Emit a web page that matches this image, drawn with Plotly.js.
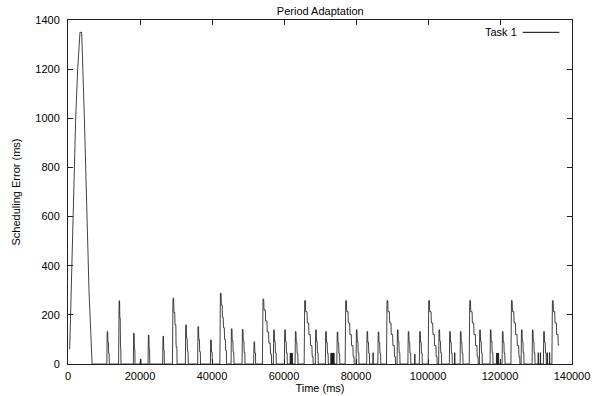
<!DOCTYPE html>
<html>
<head>
<meta charset="utf-8">
<script src="https://cdn.plot.ly/plotly-3.0.1.min.js"></script>
<style>html,body{margin:0;padding:0;background:#fff;}#chart{width:602px;height:396px;}</style>
</head>
<body>
<div id="chart"></div>
<script>
// Time (ms) samples of the Task 1 scheduling error trace
const timeMs = [
  470, 1390, 2140, 2690, 3330, 3800, 4170, 4550, 5280, 5780, 5840, 6700,
  10790, 10890, 11020, 11090, 11230, 11290, 11420, 11470,
  14050, 14200, 14330, 14400, 14500, 14580, 14650, 14720,
  18150, 18250, 18380, 18450, 18570, 18620,
  20050, 20110, 20250, 20300,
  22240, 22340, 22470, 22540, 22660, 22710,
  26290, 26390, 26520, 26590, 26710, 26760,
  29000, 29170, 29350, 29430, 29650, 29720, 29950, 30030, 30250, 30300,
  32600, 32700, 32850, 32920, 33100, 33170, 33350, 33400,
  36010, 36110, 36260, 36330, 36510, 36580, 36760, 36810,
  39540, 39640, 39790, 39860, 40040, 40090,
  42180, 42340, 42520, 42600, 42820, 42900, 43120, 43200, 43420, 43500, 43720, 43800, 44000, 44060,
  45290, 45390, 45550, 45620, 45800, 45870, 46050, 46110,
  48350, 48450, 48610, 48680, 48860, 48930, 49110, 49170,
  51570, 51670, 51830, 51900, 52080, 52130,
  54000, 54170, 54370, 54450, 54820, 54900, 55270, 55350, 55720, 55800, 56170, 56250, 56500, 56550,
  57040, 57140, 57300, 57370, 57550, 57620, 57800, 57860,
  60100, 60200, 60360, 60430, 60610, 60680, 60860, 60920,
  61700, 61730, 61830, 61860, 61950, 61980, 62080, 62110, 62200, 62230, 62330, 62360,
  63070, 63170, 63330, 63400, 63580, 63650, 63830, 63890,
  65600, 65750, 65950, 66030, 66400, 66480, 66850, 66930, 67300, 67380, 67750, 67830, 68050, 68100,
  68700, 68800, 68960, 69030, 69210, 69280, 69460, 69520,
  71490, 71590, 71750, 71820, 72000, 72070, 72250, 72310,
  73000, 73020, 73120, 73140, 73200, 73220, 73320, 73340, 73400, 73420, 73520, 73540, 73600, 73620, 73720, 73740, 73800, 73820, 73920, 73940,
  74680, 74780, 74940, 75010, 75190, 75260, 75440, 75500,
  76990, 77140, 77340, 77420, 77790, 77870, 78240, 78320, 78690, 78770, 79140, 79220, 79440, 79490,
  80020, 80120, 80280, 80350, 80530, 80600, 80780, 80840,
  82960, 83060, 83220, 83290, 83470, 83540, 83720, 83780,
  84700, 84730, 84790, 84820,
  86070, 86170, 86330, 86400, 86580, 86650, 86830, 86890,
  88470, 88620, 88820, 88900, 89270, 89350, 89720, 89800, 90170, 90250, 90620, 90700, 90920, 90970,
  91410, 91510, 91670, 91740, 91920, 91990, 92170, 92230,
  94410, 94510, 94670, 94740, 94920, 94990, 95170, 95230,
  96280, 96310, 96370, 96400,
  97600, 97700, 97860, 97930, 98110, 98180, 98360, 98420,
  100050, 100200, 100400, 100480, 100850, 100930, 101300, 101380, 101750, 101830, 102200, 102280, 102500, 102550,
  102960, 103060, 103220, 103290, 103470, 103540, 103720, 103780,
  105930, 106030, 106190, 106260, 106440, 106510, 106690, 106750,
  107370, 107400, 107460, 107490,
  108910, 109010, 109170, 109240, 109420, 109490, 109670, 109730,
  111450, 111600, 111800, 111880, 112250, 112330, 112700, 112780, 113150, 113230, 113600, 113680, 113900, 113950,
  114270, 114370, 114530, 114600, 114780, 114850, 115030, 115090,
  117240, 117340, 117500, 117570, 117750, 117820, 118000, 118060,
  119000, 119020, 119120, 119140, 119250, 119270, 119370, 119390, 119500, 119520, 119620, 119640,
  120580, 120680, 120840, 120910, 121090, 121160, 121340, 121400,
  123030, 123180, 123380, 123460, 123830, 123910, 124280, 124360, 124730, 124810, 125180, 125260, 125480, 125530,
  125860, 125960, 126120, 126190, 126370, 126440, 126620, 126680,
  128910, 129010, 129170, 129240, 129420, 129490, 129670, 129730,
  130570, 130600, 130660, 130690,
  131170, 131200, 131260, 131290,
  132050, 132150, 132310, 132380, 132560, 132630, 132810, 132870,
  133070, 133100, 133160, 133190,
  133720, 133750, 133810, 133840,
  134410, 134560, 134760, 134840, 135210, 135290, 135660, 135740, 136110, 136190, 136450
];
// Scheduling error (ms) at each sample
const errorMs = [
  60, 600, 1000, 1200, 1350, 1350, 1200, 1000, 600, 365, 295, 0,
  0, 132, 132, 88, 88, 44, 44, 0,
  0, 257, 257, 187, 187, 70, 70, 0,
  0, 125, 125, 62, 62, 0,
  0, 20, 20, 0,
  0, 118, 118, 59, 59, 0,
  0, 113, 113, 56, 56, 0,
  0, 268, 268, 210, 210, 160, 160, 70, 70, 0,
  0, 159, 159, 105, 105, 52, 52, 0,
  0, 152, 152, 100, 100, 50, 50, 0,
  0, 98, 98, 49, 49, 0,
  0, 288, 288, 240, 240, 190, 190, 148, 148, 100, 100, 55, 55, 0,
  0, 143, 143, 95, 95, 48, 48, 0,
  0, 141, 141, 94, 94, 47, 47, 0,
  0, 90, 90, 45, 45, 0,
  0, 264, 264, 220, 220, 175, 175, 130, 130, 85, 85, 40, 40, 0,
  0, 139, 139, 92, 92, 46, 46, 0,
  0, 139, 139, 92, 92, 46, 46, 0,
  0, 44, 44, 0, 0, 44, 44, 0, 0, 44, 44, 0,
  0, 132, 132, 88, 88, 44, 44, 0,
  0, 258, 258, 213, 213, 167, 167, 120, 120, 75, 75, 30, 30, 0,
  0, 139, 139, 92, 92, 46, 46, 0,
  0, 132, 132, 88, 88, 44, 44, 0,
  0, 44, 44, 0, 0, 44, 44, 0, 0, 44, 44, 0, 0, 44, 44, 0, 0, 44, 44, 0,
  0, 130, 130, 87, 87, 43, 43, 0,
  0, 258, 258, 213, 213, 167, 167, 120, 120, 75, 75, 30, 30, 0,
  0, 139, 139, 92, 92, 46, 46, 0,
  0, 132, 132, 88, 88, 44, 44, 0,
  0, 46, 46, 0,
  0, 130, 130, 87, 87, 43, 43, 0,
  0, 258, 258, 213, 213, 167, 167, 120, 120, 75, 75, 30, 30, 0,
  0, 139, 139, 92, 92, 46, 46, 0,
  0, 132, 132, 88, 88, 44, 44, 0,
  0, 40, 40, 0,
  0, 132, 132, 88, 88, 44, 44, 0,
  0, 258, 258, 213, 213, 167, 167, 120, 120, 75, 75, 30, 30, 0,
  0, 139, 139, 92, 92, 46, 46, 0,
  0, 132, 132, 88, 88, 44, 44, 0,
  0, 46, 46, 0,
  0, 132, 132, 88, 88, 44, 44, 0,
  0, 258, 258, 213, 213, 167, 167, 120, 120, 75, 75, 30, 30, 0,
  0, 139, 139, 92, 92, 46, 46, 0,
  0, 139, 139, 92, 92, 46, 46, 0,
  0, 44, 44, 0, 0, 44, 44, 0, 0, 44, 44, 0,
  0, 132, 132, 88, 88, 44, 44, 0,
  0, 258, 258, 213, 213, 167, 167, 120, 120, 75, 75, 30, 30, 0,
  0, 139, 139, 92, 92, 46, 46, 0,
  0, 139, 139, 92, 92, 46, 46, 0,
  0, 46, 46, 0,
  0, 46, 46, 0,
  0, 132, 132, 88, 88, 44, 44, 0,
  0, 46, 46, 0,
  0, 46, 46, 0,
  0, 258, 258, 213, 213, 167, 167, 120, 120, 77, 77
];
const seriesName = 'Task 1';
const chartTitle = 'Period Adaptation';
const xTitle = 'Time (ms)';
const yTitle = 'Scheduling Error (ms)';
const xTicks = [0, 20000, 40000, 60000, 80000, 100000, 120000, 140000];
const yTicks = [0, 200, 400, 600, 800, 1000, 1200, 1400];

const font = {family: 'Liberation Sans, Arial, Helvetica, sans-serif', size: 11, color: '#000'};

const trace = {
  x: timeMs, y: errorMs, type: 'scatter', mode: 'lines', name: seriesName,
  line: {color: '#111', width: 0.8}, showlegend: false, hoverinfo: 'skip'
};

const axisCommon = {
  showline: true, linecolor: '#222', linewidth: 1, mirror: 'ticks',
  ticks: 'inside', ticklen: 5, tickcolor: '#222', tickwidth: 1,
  showgrid: false, zeroline: false, tickfont: font, tickmode: 'array'
};

const layout = {
  width: 602, height: 396,
  margin: {l: 68, r: 30, t: 20, b: 32, pad: 0},
  paper_bgcolor: '#fff', plot_bgcolor: '#fff',
  font: font,
  title: {text: chartTitle, font: font, x: 0.532, xanchor: 'center', y: 0.972, yanchor: 'middle', xref: 'container', yref: 'container'},
  xaxis: Object.assign({}, axisCommon, {
    range: [0, 140000], tickvals: xTicks, ticktext: xTicks.map(String),
    ticklabelstandoff: 2,
    title: {text: xTitle, font: font, standoff: 0}
  }),
  yaxis: Object.assign({}, axisCommon, {
    range: [0, 1400], tickvals: yTicks, ticktext: yTicks.map(String),
    ticklabelstandoff: 5,
    title: {text: yTitle, font: font, standoff: 12}
  }),
  annotations: [{
    xref: 'paper', yref: 'paper', x: 0.8948, y: 0.9642, xanchor: 'right', yanchor: 'middle',
    text: seriesName, showarrow: false, font: font
  }],
  shapes: [{
    type: 'line', xref: 'paper', yref: 'paper', x0: 0.9022, x1: 0.9748, y0: 0.9642, y1: 0.9642,
    line: {color: '#000', width: 1}
  }]
};

Plotly.newPlot('chart', [trace], layout, {displayModeBar: false, staticPlot: true});
</script>
</body>
</html>
